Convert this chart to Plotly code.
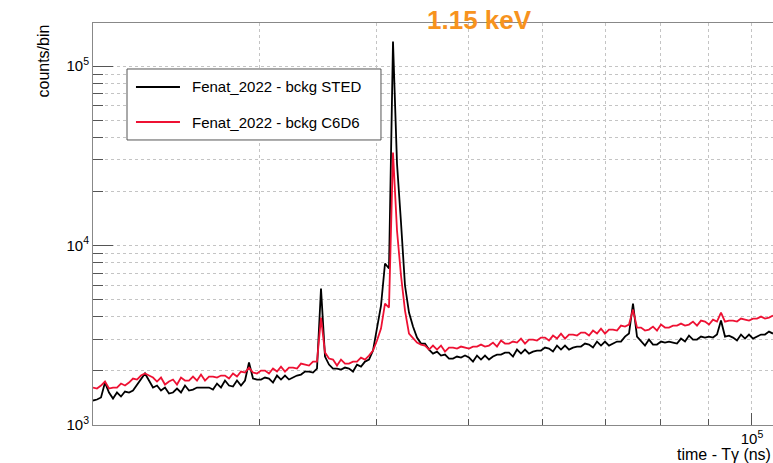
import numpy as np
import plotly.graph_objects as go

# Time-of-flight bins (log-spaced), ns
T_MIN, T_MAX, N_BINS = 2.0e4, 1.0527e5, 171
time_ns = np.geomspace(T_MIN, T_MAX, N_BINS)

# Background counts per bin, STED detector
bckg_sted = [
    1369, 1387, 1423, 1724, 1517, 1404, 1517, 1441, 1536, 1517,
    1556, 1680, 1815, 1935, 1769, 1617, 1659, 1556, 1617, 1497,
    1517, 1596, 1517, 1659, 1556, 1576, 1617, 1617, 1617, 1617,
    1576, 1702, 1617, 1769, 1659, 1638, 1769, 1659, 1769, 2228,
    1815, 1792, 1792, 1838, 1815, 1724, 1886, 1792, 1886, 1792,
    1838, 1886, 1910, 1985, 1985, 1960, 2063, 5760, 2406, 2171,
    2063, 2063, 2037, 2089, 2063, 1985, 2171, 2116, 2256, 2315,
    2598, 3445, 4627, 7940, 7444, 136900, 28630, 13430, 5985, 4229,
    3534, 3069, 2842, 2842, 2632, 2500, 2565, 2437, 2468, 2345,
    2345, 2406, 2375, 2437, 2375, 2256, 2437, 2315, 2437, 2315,
    2406, 2468, 2468, 2532, 2532, 2406, 2632, 2500, 2632, 2500,
    2565, 2598, 2598, 2700, 2666, 2565, 2770, 2632, 2770, 2632,
    2700, 2735, 2735, 2842, 2806, 2700, 2916, 2770, 2916, 2770,
    2842, 2916, 2916, 3109, 3231, 4747, 3109, 2916, 2770, 2992,
    2806, 2806, 2916, 2879, 2916, 2879, 2842, 3030, 2916, 3149,
    2992, 2992, 3109, 3069, 3109, 3069, 3190, 3817, 3109, 3149,
    3069, 2954, 3190, 3030, 3190, 3030, 3109, 3190, 3190, 3315,
    3231,
]

# Background counts per bin, C6D6 detector
bckg_c6d6 = [
    1617, 1596, 1659, 1746, 1596, 1617, 1617, 1702, 1659, 1724,
    1815, 1792, 1886, 1935, 1886, 1838, 1746, 1838, 1680, 1746,
    1792, 1680, 1838, 1769, 1769, 1862, 1769, 1910, 1769, 1862,
    1862, 1838, 1886, 1886, 1815, 1935, 1862, 1985, 1960, 2089,
    1960, 1935, 2011, 2011, 1935, 2063, 1985, 2116, 1985, 2089,
    2089, 2063, 2199, 2171, 2144, 2256, 2256, 3967, 2532, 2345,
    2315, 2144, 2315, 2199, 2199, 2256, 2256, 2375, 2315, 2437,
    2598, 2954, 3445, 4747, 4509, 32970, 12120, 6805, 4339, 3231,
    3030, 2879, 2806, 2770, 2632, 2770, 2632, 2770, 2565, 2700,
    2700, 2666, 2735, 2700, 2666, 2735, 2735, 2806, 2735, 2770,
    2879, 2735, 2954, 2842, 2842, 2916, 2879, 3030, 2842, 2992,
    2992, 2954, 3069, 3069, 2954, 3149, 3030, 3231, 3030, 3190,
    3190, 3149, 3272, 3272, 3149, 3357, 3231, 3445, 3231, 3401,
    3401, 3357, 3580, 3534, 3626, 4395, 3489, 3489, 3357, 3401,
    3534, 3357, 3626, 3489, 3489, 3580, 3580, 3673, 3580, 3626,
    3768, 3580, 3817, 3768, 3626, 3866, 3768, 4229, 3768, 3817,
    3817, 3768, 3916, 3866, 3817, 3916, 3916, 4018, 3916, 3967,
    4070,
]

series_names = ["Fenat_2022 - bckg STED", "Fenat_2022 - bckg C6D6"]
series_colors = ["#000000", "#ee1133"]

x_major = [1e5]
x_major_text = ["10<sup>5</sup>"]
x_minor = [3e4, 4e4, 5e4, 6e4, 7e4, 8e4, 9e4]
y_major = [1e3, 1e4, 1e5]
y_major_text = ["10<sup>3</sup>", "10<sup>4</sup>", "10<sup>5</sup>"]
y_minor = [m * 10 ** e for e in (3, 4) for m in range(2, 10)]

FONT = "Liberation Sans, Arial, sans-serif"
GRID = "#c4c4c4"
FRAME = "#888888"

fig = go.Figure()
for vals, name, col in zip([bckg_sted, bckg_c6d6], series_names, series_colors):
    fig.add_trace(go.Scatter(
        x=time_ns, y=vals, mode="lines", name=name, showlegend=False,
        line=dict(color=col, width=1.8),
    ))

fig.update_layout(
    width=773, height=463,
    margin=dict(l=93, r=0, t=23, b=38),
    paper_bgcolor="white", plot_bgcolor="white",
    font=dict(family=FONT, size=15, color="black"),
)

fig.update_xaxes(
    type="log", range=[np.log10(T_MIN), np.log10(T_MAX)],
    tickmode="array", tickvals=x_major, ticktext=x_major_text,
    ticks="inside", ticklen=12, tickcolor="#555555",
    showgrid=True, gridcolor=GRID, griddash="dot", gridwidth=1,
    minor=dict(tickmode="array", tickvals=x_minor, ticks="inside",
               ticklen=6, tickcolor="#555555", showgrid=True,
               gridcolor=GRID, griddash="dot", gridwidth=1),
    showline=True, linecolor=FRAME, linewidth=1, mirror=True,
    zeroline=False, tickfont=dict(size=15),
)
fig.update_yaxes(
    type="log", range=[3, 5.2396],
    tickmode="array", tickvals=y_major, ticktext=y_major_text,
    ticks="inside", ticklen=20, tickcolor="#555555",
    showgrid=True, gridcolor=GRID, griddash="dot", gridwidth=1,
    minor=dict(tickmode="array", tickvals=y_minor, ticks="inside",
               ticklen=10, tickcolor="#555555", showgrid=True,
               gridcolor=GRID, griddash="dot", gridwidth=1),
    showline=True, linecolor=FRAME, linewidth=1, mirror=True,
    zeroline=False, tickfont=dict(size=15),
)

# Legend box (ROOT TLegend style): frame, line samples and entry labels
LEG_X0, LEG_X1, LEG_Y0, LEG_Y1 = 0.05, 0.4235, 0.709, 0.8856
LEG_ROWS = [0.8408, 0.7537]
fig.add_shape(type="rect", xref="paper", yref="paper",
              x0=LEG_X0, x1=LEG_X1, y0=LEG_Y0, y1=LEG_Y1,
              line=dict(color="#555555", width=1), fillcolor="white",
              layer="above")
for row_y, name, col in zip(LEG_ROWS, series_names, series_colors):
    fig.add_shape(type="line", xref="paper", yref="paper",
                  x0=0.0632, x1=0.1279, y0=row_y, y1=row_y,
                  line=dict(color=col, width=1.8), layer="above")
    fig.add_annotation(text=name, xref="paper", yref="paper",
                       x=0.1426, y=row_y, xanchor="left", yanchor="middle",
                       showarrow=False, font=dict(size=15, family=FONT))

# Title and axis labels
fig.add_annotation(
    text="<b>1.15 keV</b>", xref="paper", yref="paper",
    x=0.569, y=1.0075, xanchor="center", yanchor="middle",
    showarrow=False, font=dict(size=26, color="#f7931e", family=FONT),
)
fig.add_annotation(
    text="time - T\u03b3 (ns)", xref="paper", yref="paper",
    x=1.0, y=-0.0746, xanchor="right", yanchor="middle",
    showarrow=False, font=dict(size=16, family=FONT),
)
fig.add_annotation(
    text="counts/bin", xref="paper", yref="paper",
    x=-0.0735, y=1.0, xanchor="center", yanchor="top", textangle=-90,
    showarrow=False, font=dict(size=16, family=FONT),
)

fig.write_html("out.html")
